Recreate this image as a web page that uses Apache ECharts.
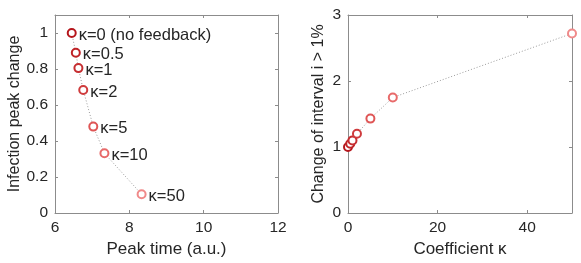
<!DOCTYPE html>
<html><head><meta charset="utf-8">
<script src="https://cdn.jsdelivr.net/npm/echarts@6/dist/echarts.min.js"></script>
<style>html,body{margin:0;padding:0;background:#fff}#c{width:581px;height:263px}</style>
</head><body><div id="c"></div>
<script>
var kappaLabels = ['κ=0 (no feedback)', 'κ=0.5', 'κ=1', 'κ=2', 'κ=5', 'κ=10', 'κ=50'];
var kappaValues = [0, 0.5, 1, 2, 5, 10, 50];
var peakTime = [6.45, 6.56, 6.63, 6.76, 7.03, 7.33, 8.33];
var peakChange = [1.0, 0.89, 0.805, 0.683, 0.48, 0.332, 0.104];
var intervalChange = [1.0, 1.05, 1.1, 1.2, 1.43, 1.75, 2.72];
var pointColors = ['#b5161c', '#bf2327', '#c62e31', '#cf3b3d', '#df5656', '#e86a6a', '#f08a8a'];
var leftYTicks = [0, 0.2, 0.4, 0.6, 0.8, 1];

var font = 'Liberation Sans, Arial, sans-serif';
var txt = '#262626';
var axisCol = '#8c8c8c';

function mkData(xs, ys, withLabel) {
  return xs.map(function (x, i) {
    var d = { value: [x, ys[i]], itemStyle: { borderColor: pointColors[i], color: '#fff' } };
    if (withLabel) {
      d.label = { show: true, formatter: kappaLabels[i] };
    }
    return d;
  });
}

function boxAxis(gi, pos, min, max, extra) {
  var a = {
    type: 'value', gridIndex: gi, position: pos, min: min, max: max,
    axisLine: { show: true, onZero: false, lineStyle: { color: axisCol, width: 1 } },
    axisTick: { show: true, inside: true, length: 3, lineStyle: { color: axisCol } },
    axisLabel: { show: false }, splitLine: { show: false }
  };
  for (var k in extra) a[k] = extra[k];
  if (extra.tickValues) { a.axisTick.customValues = extra.tickValues; delete a.tickValues; }
  return a;
}

var chart = echarts.init(document.getElementById('c'), null, { renderer: 'canvas' });
chart.setOption({
  animation: false,
  textStyle: { fontFamily: font },
  grid: [
    { left: 55, right: 303, top: 15, bottom: 50 },
    { left: 348, right: 9, top: 15, bottom: 50 }
  ],
  xAxis: [
    {
      type: 'value', gridIndex: 0, min: 6, max: 12, interval: 2,
      name: 'Peak time (a.u.)', nameLocation: 'middle', nameGap: 24,
      nameTextStyle: { fontSize: 17, color: txt, fontFamily: font },
      axisLine: { show: true, onZero: false, lineStyle: { color: axisCol } },
      axisTick: { show: true, inside: true, length: 3, lineStyle: { color: axisCol } },
      axisLabel: { fontSize: 15.5, color: txt, margin: 7, fontFamily: font },
      splitLine: { show: false }
    },
    {
      type: 'value', gridIndex: 1, min: 0, max: 50, interval: 20,
      name: 'Coefficient κ', nameLocation: 'middle', nameGap: 24,
      nameTextStyle: { fontSize: 17, color: txt, fontFamily: font },
      axisLine: { show: true, onZero: false, lineStyle: { color: axisCol } },
      axisTick: { show: true, inside: true, length: 3, lineStyle: { color: axisCol } },
      axisLabel: { fontSize: 15.5, color: txt, margin: 7, fontFamily: font, showMaxLabel: false },
      splitLine: { show: false }
    },
    boxAxis(0, 'top', 6, 12, { interval: 2 }),
    boxAxis(1, 'top', 0, 50, { interval: 20 })
  ],
  yAxis: [
    {
      type: 'value', gridIndex: 0, min: 0, max: 1.1,
      name: 'Infection peak change', nameLocation: 'middle', nameGap: 31,
      nameTextStyle: { fontSize: 16, color: txt, fontFamily: font },
      axisLine: { show: true, onZero: false, lineStyle: { color: axisCol } },
      axisTick: { show: true, inside: true, length: 3, customValues: leftYTicks, lineStyle: { color: axisCol } },
      axisLabel: { fontSize: 15.5, color: txt, margin: 7, fontFamily: font, customValues: leftYTicks },
      splitLine: { show: false }
    },
    {
      type: 'value', gridIndex: 1, min: 0, max: 3, interval: 1,
      name: 'Change of interval i > 1%', nameLocation: 'middle', nameGap: 21,
      nameTextStyle: { fontSize: 16, color: txt, fontFamily: font },
      axisLine: { show: true, onZero: false, lineStyle: { color: axisCol } },
      axisTick: { show: true, inside: true, length: 3, lineStyle: { color: axisCol } },
      axisLabel: { fontSize: 15.5, color: txt, margin: 7, fontFamily: font },
      splitLine: { show: false }
    },
    boxAxis(0, 'right', 0, 1.1, { tickValues: leftYTicks }),
    boxAxis(1, 'right', 0, 3, { interval: 1 })
  ],
  series: [
    {
      type: 'line', xAxisIndex: 0, yAxisIndex: 0,
      data: mkData(peakTime, peakChange, true),
      symbol: 'circle', symbolSize: 8,
      itemStyle: { borderWidth: 2 },
      lineStyle: { color: '#9a9a9a', width: 1, type: [1, 2] },
      label: { position: 'right', distance: 0, offset: [2, 2], fontSize: 16.5, color: txt, fontFamily: font },
      z: 3
    },
    {
      type: 'line', xAxisIndex: 1, yAxisIndex: 1,
      data: mkData(kappaValues, intervalChange, false),
      symbol: 'circle', symbolSize: 8,
      itemStyle: { borderWidth: 2 },
      lineStyle: { color: '#9a9a9a', width: 1, type: [1, 2] },
      z: 3
    }
  ]
});
</script></body></html>
